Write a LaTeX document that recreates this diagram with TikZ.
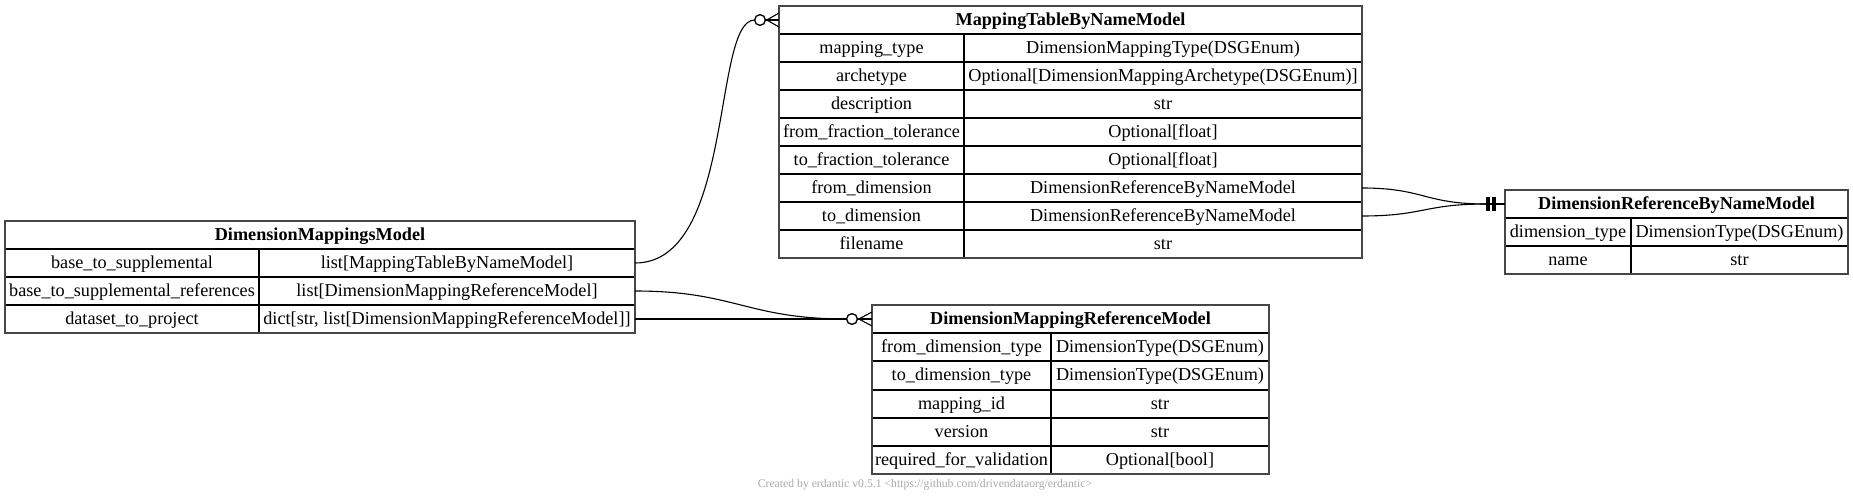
\documentclass[tikz,border=0pt]{standalone}
\usepackage{fontspec}
\setmainfont{Liberation Serif}
\usetikzlibrary{calc}
\definecolor{footgray}{RGB}{168,168,168}
\definecolor{framegray}{RGB}{70,70,70}
\newcommand\erCell[6]{\node[cellbox, minimum width={#4pt-#2pt}, minimum height={#5pt-#3pt}] (#1) at ({(#2+#4)/2},{(#3+#5)/2}) {#6};}
\tikzset{
  cellbox/.style={draw, line width=1.2pt, inner sep=0pt, outer sep=0pt,
    font=\fontsize{18.2}{20}\selectfont, text height=14.8pt, text depth=4pt},
  tableframe/.style={draw=framegray, line width=1.5pt},
  edge/.style={draw, line width=1.1pt},
  zerocirc/.style={circle, draw, fill=white, line width=1.2pt, minimum size=10.6pt, inner sep=0pt, outer sep=0pt},
}
\begin{document}
\begin{tikzpicture}[x=1pt, y=-1pt]
\useasboundingbox (0,0) rectangle (1853,503);

% ---- DimensionMappingsModel
\erCell{A-h}{5}{221}{635}{249}{\bfseries DimensionMappingsModel}
\erCell{A-1k}{5}{249}{259}{277}{base\_to\_supplemental}
\erCell{A-1v}{259}{249}{635}{277}{list[MappingTableByNameModel]}
\erCell{A-2k}{5}{277}{259}{305}{base\_to\_supplemental\_references}
\erCell{A-2v}{259}{277}{635}{305}{list[DimensionMappingReferenceModel]}
\erCell{A-3k}{5}{305}{259}{333}{dataset\_to\_project}
\erCell{A-3v}{259}{305}{635}{333}{dict[str, list[DimensionMappingReferenceModel]]}
\draw[tableframe] (A-h.north west) rectangle (A-3v.south east);

% ---- MappingTableByNameModel
\erCell{B-h}{779}{6}{1362}{34}{\bfseries MappingTableByNameModel}
\erCell{B-1k}{779}{34}{964}{62}{mapping\_type}
\erCell{B-1v}{964}{34}{1362}{62}{DimensionMappingType(DSGEnum)}
\erCell{B-2k}{779}{62}{964}{90}{archetype}
\erCell{B-2v}{964}{62}{1362}{90}{Optional[DimensionMappingArchetype(DSGEnum)]}
\erCell{B-3k}{779}{90}{964}{118}{description}
\erCell{B-3v}{964}{90}{1362}{118}{str}
\erCell{B-4k}{779}{118}{964}{146}{from\_fraction\_tolerance}
\erCell{B-4v}{964}{118}{1362}{146}{Optional[float]}
\erCell{B-5k}{779}{146}{964}{174}{to\_fraction\_tolerance}
\erCell{B-5v}{964}{146}{1362}{174}{Optional[float]}
\erCell{B-6k}{779}{174}{964}{202}{from\_dimension}
\erCell{B-6v}{964}{174}{1362}{202}{DimensionReferenceByNameModel}
\erCell{B-7k}{779}{202}{964}{230}{to\_dimension}
\erCell{B-7v}{964}{202}{1362}{230}{DimensionReferenceByNameModel}
\erCell{B-8k}{779}{230}{964}{258}{filename}
\erCell{B-8v}{964}{230}{1362}{258}{str}
\draw[tableframe] (B-h.north west) rectangle (B-8v.south east);

% ---- DimensionReferenceByNameModel
\erCell{C-h}{1505}{190}{1848}{218}{\bfseries DimensionReferenceByNameModel}
\erCell{C-1k}{1505}{218}{1631}{246}{dimension\_type}
\erCell{C-1v}{1631}{218}{1848}{246}{DimensionType(DSGEnum)}
\erCell{C-2k}{1505}{246}{1631}{274}{name}
\erCell{C-2v}{1631}{246}{1848}{274}{str}
\draw[tableframe] (C-h.north west) rectangle (C-2v.south east);

% ---- DimensionMappingReferenceModel
\erCell{D-h}{872}{305}{1269}{333}{\bfseries DimensionMappingReferenceModel}
\erCell{D-1k}{872}{333}{1051}{361}{from\_dimension\_type}
\erCell{D-1v}{1051}{333}{1269}{361}{DimensionType(DSGEnum)}
\erCell{D-2k}{872}{361}{1051}{390}{to\_dimension\_type}
\erCell{D-2v}{1051}{361}{1269}{390}{DimensionType(DSGEnum)}
\erCell{D-3k}{872}{390}{1051}{418}{mapping\_id}
\erCell{D-3v}{1051}{390}{1269}{418}{str}
\erCell{D-4k}{872}{418}{1051}{446}{version}
\erCell{D-4v}{1051}{418}{1269}{446}{str}
\erCell{D-5k}{872}{446}{1051}{474}{required\_for\_validation}
\erCell{D-5v}{1051}{446}{1269}{474}{Optional[bool]}
\draw[tableframe] (D-h.north west) rectangle (D-5v.south east);

% ---- connector end markers (positions)
\node[zerocirc] (B-o) at ($(B-h.west)+(-19,0)$) {};
\node[zerocirc] (D-o) at ($(D-h.west)+(-20,0)$) {};
\coordinate (C-t) at ($(C-h.west)+(-19,0)$);

% ---- connectors
\draw[edge] (A-1v.east) .. controls +(100,0) and (712,20) .. (B-o.west);
\draw[edge] (A-2v.east) .. controls +(100,0) and +(-100,0) .. (D-o.west);
\draw[edge] (A-3v.east) -- (D-o.west);
\draw[edge] (B-6v.east) .. controls +(62,0) and +(-62,0) .. (C-t);
\draw[edge] (B-7v.east) .. controls +(62,0) and +(-62,0) .. (C-t);

% circles drawn on top
\node[zerocirc] at (B-o) {};
\node[zerocirc] at (D-o) {};

% crow's feet
\draw[edge] (B-o.east) -- (B-h.west);
\draw[edge] ($(B-o.east)+(1.5,0)$) -- ($(B-h.west)+(0,-7)$);
\draw[edge] ($(B-o.east)+(1.5,0)$) -- ($(B-h.west)+(0,7)$);
\draw[edge] (D-o.east) -- (D-h.west);
\draw[edge] ($(D-o.east)+(1.5,0)$) -- ($(D-h.west)+(0,-7)$);
\draw[edge] ($(D-o.east)+(1.5,0)$) -- ($(D-h.west)+(0,7)$);

% tee-tee marker
\draw[edge] (C-t) -- (C-h.west);
\fill ($(C-t)+(0,-7)$) rectangle ($(C-t)+(4,7)$);
\fill ($(C-t)+(6,-7)$) rectangle ($(C-t)+(10,7)$);

% footer
\node[font=\fontsize{11.7}{13}\selectfont, text=footgray, inner sep=0pt] (foot) at (925,485) {Created by erdantic v0.5.1 <https://github.com/drivendataorg/erdantic>};
\end{tikzpicture}
\end{document}
